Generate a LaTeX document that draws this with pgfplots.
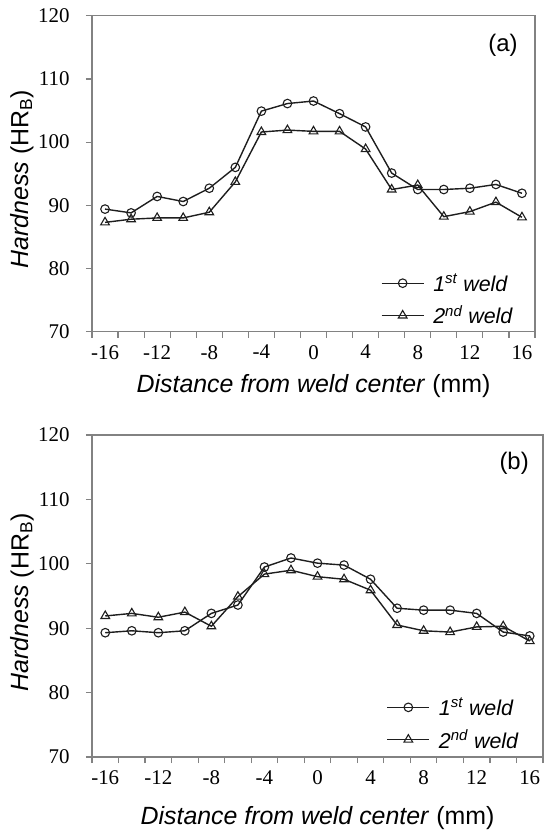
\documentclass[border=0pt]{standalone}
\usepackage{fontspec}
\setmainfont{Liberation Serif}
\newfontfamily\arial{Liberation Sans}
\usepackage{pgfplots}
\pgfplotsset{compat=1.18}
\definecolor{axgray}{RGB}{130,130,130}
\definecolor{ink}{RGB}{30,30,30}

\pgfplotsset{
  weld/.style={
    scale only axis,
    xmin=-17, xmax=17, ymin=70, ymax=120,
    ytick={70,80,...,120},
    yticklabels={70,80,90,100,110,120},
    xtick={-17,-15,...,17}, xticklabels={},
    extra x ticks={-16,-12,...,16},
    extra x tick labels={-16,-12,-8,-4,0,4,8,12,16},
    extra x tick style={major tick length=0pt},
    tick align=outside, tick pos=left,
    major tick length=6bp,
    axis line style={axgray, line width=1.2bp},
    tick style={axgray, line width=1.2bp},
    ticklabel style={font=\fontsize{21}{25}\selectfont, text=black},
    yticklabel style={xshift=-13bp},
    xticklabel style={yshift=-10bp},
    label style={font=\arial\fontsize{25}{29}\selectfont},
    ylabel={\textit{Hardness} (HR\textsubscript{B})},
    xlabel={\textit{Distance from weld center} (mm)},
    legend style={draw=none, fill=none, inner sep=0pt,
      font=\arial\itshape\fontsize{21.5}{25}\selectfont,
      cells={anchor=west}, row sep=9bp,
      /tikz/every odd column/.append style={column sep=7bp}},
    legend image code/.code={\draw[mark repeat=2,mark phase=2,#1,line width=1.3bp]
      plot coordinates {(0bp,0bp) (21bp,0bp) (42bp,0bp)};},
    every axis plot/.append style={ink, line width=1.4bp},
  },
  s1/.style={mark=o, mark size=4.3bp, mark options={fill=white, line width=1.1bp}},
  s2/.style={mark=triangle, mark size=5bp, mark options={fill=white, line width=1.1bp}},
}

\begin{document}
\begin{tikzpicture}
\path[use as bounding box] (0,0) rectangle (544bp,-832bp);

% (a)
\begin{axis}[weld, at={(92bp,-15.7bp)}, anchor=north west,
    width=443bp, height=316bp,
    ylabel style={at={(axis description cs:-0.158,0.483)}, anchor=center},
    xlabel style={at={(axis description cs:0.5,-0.172)}, anchor=center},
    legend style={at={(axis description cs:0.652,0.19)}, anchor=north west}]
\addplot[s1] coordinates {
(-16,89.4) (-14,88.8) (-12,91.4) (-10,90.6) (-8,92.7) (-6,96.0) (-4,104.9)
(-2,106.1) (0,106.5) (2,104.5) (4,102.4) (6,95.1) (8,92.5) (10,92.5)
(12,92.7) (14,93.3) (16,91.9)};
\addlegendentry{1\textsuperscript{st} weld}
\addplot[s2] coordinates {
(-16,87.3) (-14,87.8) (-12,88.0) (-10,88.0) (-8,88.9) (-6,93.7) (-4,101.6)
(-2,101.9) (0,101.7) (2,101.7) (4,98.9) (6,92.5) (8,93.2) (10,88.2)
(12,89.0) (14,90.5) (16,88.1)};
\addlegendentry{2\textsuperscript{nd} weld}
\node[font=\arial\fontsize{24}{28}\selectfont] at (rel axis cs:0.928,0.907) {(a)};
\end{axis}

% (b)
\begin{axis}[weld, at={(92bp,-435bp)}, anchor=north west,
    width=451bp, height=322bp,
    ylabel style={at={(axis description cs:-0.155,0.48)}, anchor=center},
    xlabel style={at={(axis description cs:0.5,-0.19)}, anchor=center},
    legend style={at={(axis description cs:0.653,0.19)}, anchor=north west}]
\addplot[s1] coordinates {
(-16,89.3) (-14,89.6) (-12,89.3) (-10,89.6) (-8,92.3) (-6,93.6) (-4,99.5)
(-2,100.9) (0,100.1) (2,99.8) (4,97.6) (6,93.1) (8,92.8) (10,92.8)
(12,92.3) (14,89.4) (16,88.8)};
\addlegendentry{1\textsuperscript{st} weld}
\addplot[s2] coordinates {
(-16,91.9) (-14,92.3) (-12,91.7) (-10,92.5) (-8,90.3) (-6,94.9) (-4,98.4)
(-2,99.0) (0,98.0) (2,97.6) (4,95.9) (6,90.5) (8,89.6) (10,89.4)
(12,90.2) (14,90.3) (16,88.0)};
\addlegendentry{2\textsuperscript{nd} weld}
\node[font=\arial\fontsize{24}{28}\selectfont] at (rel axis cs:0.936,0.913) {(b)};
\end{axis}
\end{tikzpicture}
\end{document}
